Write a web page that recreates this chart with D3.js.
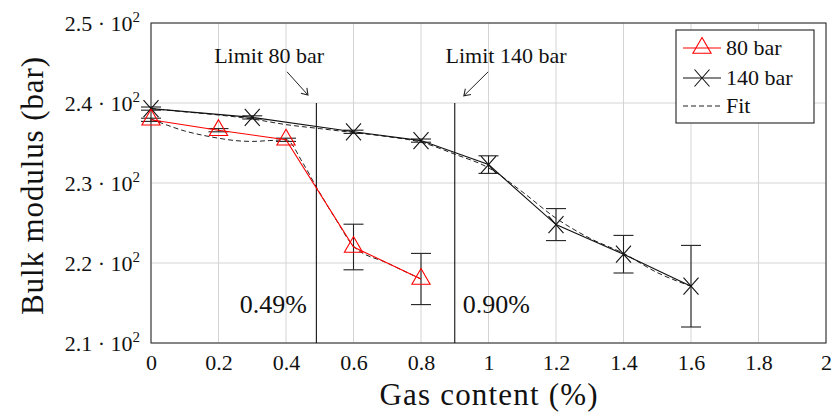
<!DOCTYPE html>
<html>
<head>
<meta charset="utf-8">
<script src="https://cdn.jsdelivr.net/npm/d3@7"></script>
<style>
    body { margin: 0; background: #fff; }
</style>
</head>
<body>
<div id="chart-area"></div>
<script>

// measured points, 80 bar
var gas80 = [0, 0.2, 0.4, 0.6, 0.8];
var bulk80 = [237.9, 236.6, 235.4, 222.0, 218.0];
var err80 = [0.2, 0.2, 0.2, 2.85, 3.2];

// measured points, 140 bar
var gas140 = [0, 0.3, 0.6, 0.8, 1.0, 1.2, 1.4, 1.6];
var bulk140 = [239.3, 238.2, 236.4, 235.3, 232.3, 224.8, 221.1, 217.1];
var err140 = [0.2, 0.2, 0.2, 0.2, 1.1, 2.0, 2.35, 5.1];

// fit curves
var fit80Gas = [0, 0.05, 0.1, 0.15, 0.2, 0.25, 0.3, 0.35, 0.4, 0.45, 0.49, 0.55, 0.6, 0.7, 0.8];
var fit80Bulk = [238.0, 237.2, 236.5, 236.0, 235.6, 235.3, 235.2, 235.3, 235.4, 232.5, 229.5, 225.3, 222.1, 220.0, 218.0];
var fit140Gas = [0, 0.1, 0.2, 0.3, 0.4, 0.5, 0.6, 0.7, 0.8, 0.9, 1.0, 1.1, 1.2, 1.3, 1.4, 1.5, 1.6];
var fit140Bulk = [239.3, 238.9, 238.5, 238.0, 237.3, 236.8, 236.3, 235.8, 235.1, 233.6, 231.9, 228.9, 225.6, 223.1, 221.2, 218.8, 217.1];

// limits
var limitGas = [0.49, 0.90];
var limitLabels = ["0.49%", "0.90%"];
var limitNames = ["Limit 80 bar", "Limit 140 bar"];

// axes
var xTicks = [0, 0.2, 0.4, 0.6, 0.8, 1, 1.2, 1.4, 1.6, 1.8, 2];
var yTicks = [210, 220, 230, 240, 250];
var yTickLabels = ["2.1", "2.2", "2.3", "2.4", "2.5"];

var seriesNames = ["80 bar", "140 bar", "Fit"];

var FONT = "Liberation Serif";

// every text gets the serif face set on itself
function serif(sel, size) {
    return sel.attr("font-family", FONT)
        .style("font-family", FONT)
        .attr("font-size", size)
        .attr("fill", "#111");
}

ChartVis = function(_parentElement) {
    this.parentElement = _parentElement;
    this.initVis();
}

ChartVis.prototype.initVis = function() {
    var vis = this;

    vis.margin = {top: 23, right: 8, bottom: 76, left: 151};
    vis.width = 834 - vis.margin.left - vis.margin.right;
    vis.height = 419 - vis.margin.top - vis.margin.bottom;

    vis.svg = d3.select("#" + vis.parentElement).append("svg")
        .attr("width", 834)
        .attr("height", 419)
        .append("g")
        .attr("transform", "translate(" + vis.margin.left + "," + vis.margin.top + ")");

    var defs = vis.svg.append("defs");
    defs.append("marker")
        .attr("id", "arrow")
        .attr("viewBox", "-8 -5 10 10")
        .attr("markerWidth", 10)
        .attr("markerHeight", 10)
        .attr("markerUnits", "userSpaceOnUse")
        .attr("orient", "auto")
        .append("path")
        .attr("d", "M-6,-4 L0,0 L-6,4")
        .attr("fill", "none")
        .attr("stroke", "#222")
        .attr("stroke-width", 1.1);

    vis.x = d3.scaleLinear().domain([0, 2]).range([0, vis.width]);
    vis.y = d3.scaleLinear().domain([210, 250]).range([vis.height, 0]);

    // grid
    vis.svg.append("g").selectAll("line.vg")
        .data(xTicks)
        .enter().append("line")
        .attr("x1", function(d) { return vis.x(d); })
        .attr("x2", function(d) { return vis.x(d); })
        .attr("y1", 0).attr("y2", vis.height)
        .attr("stroke", "#d4d4d4").attr("stroke-width", 1);

    vis.svg.append("g").selectAll("line.hg")
        .data(yTicks)
        .enter().append("line")
        .attr("y1", function(d) { return vis.y(d); })
        .attr("y2", function(d) { return vis.y(d); })
        .attr("x1", 0).attr("x2", vis.width)
        .attr("stroke", "#d4d4d4").attr("stroke-width", 1);

    // axes
    vis.xAxis = d3.axisBottom(vis.x)
        .tickValues(xTicks)
        .tickSize(0)
        .tickPadding(11)
        .tickFormat(function(d) { return d3.format("")(d); });

    vis.yAxis = d3.axisLeft(vis.y)
        .tickValues(yTicks)
        .tickSize(0)
        .tickPadding(10)
        .tickFormat("");

    var gx = vis.svg.append("g")
        .attr("class", "x-axis axis")
        .attr("transform", "translate(0," + vis.height + ")")
        .call(vis.xAxis);
    gx.select(".domain").remove();
    serif(gx.selectAll("text"), 22);

    var gy = vis.svg.append("g")
        .attr("class", "y-axis axis")
        .call(vis.yAxis);
    gy.select(".domain").remove();
    gy.selectAll(".tick text").each(function(d, i) {
        var t = serif(d3.select(this), 22)
            .attr("x", -11)
            .attr("dy", "0.35em");
        t.append("tspan").text(yTickLabels[i] + " \u00B7 10");
        t.append("tspan").attr("font-size", 15).attr("dy", "-0.6em").text("2");
    });

    // frame
    vis.svg.append("rect")
        .attr("width", vis.width).attr("height", vis.height)
        .attr("fill", "none").attr("stroke", "#333").attr("stroke-width", 1.1);

    // axis titles
    serif(vis.svg.append("text"), 31)
        .attr("x", vis.width / 2)
        .attr("y", vis.height + 62)
        .attr("text-anchor", "middle")
        .attr("textLength", 218)
        .text("Gas content (%)");

    serif(vis.svg.append("text"), 31)
        .attr("transform", "translate(-108," + (vis.height / 2 + 3) + ") rotate(-90)")
        .attr("text-anchor", "middle")
        .attr("textLength", 258)
        .text("Bulk modulus (bar)");

    vis.updateVis();
}

ChartVis.prototype.updateVis = function() {
    var vis = this;

    // limit lines
    limitGas.forEach(function(g, i) {
        vis.svg.append("line")
            .attr("x1", vis.x(g)).attr("x2", vis.x(g))
            .attr("y1", vis.y(240)).attr("y2", vis.y(210))
            .attr("stroke", "#111").attr("stroke-width", 1.1);
    });

    serif(vis.svg.append("text"), 26)
        .attr("x", vis.x(0.462)).attr("y", vis.y(213.75))
        .attr("text-anchor", "end")
        .text(limitLabels[0]);
    serif(vis.svg.append("text"), 26)
        .attr("x", vis.x(0.924)).attr("y", vis.y(213.75))
        .attr("text-anchor", "start")
        .text(limitLabels[1]);

    // annotations
    var notes = [
        {label: limitNames[0], tx: 0.35, from: [0.403, 243.9], to: [0.465, 241.0]},
        {label: limitNames[1], tx: 1.052, from: [0.999, 243.9], to: [0.927, 240.9]}
    ];
    notes.forEach(function(n) {
        serif(vis.svg.append("text"), 22)
            .attr("x", vis.x(n.tx)).attr("y", vis.y(245.0))
            .attr("text-anchor", "middle")
            .text(n.label);
        vis.svg.append("line")
            .attr("x1", vis.x(n.from[0])).attr("y1", vis.y(n.from[1]))
            .attr("x2", vis.x(n.to[0])).attr("y2", vis.y(n.to[1]))
            .attr("stroke", "#222").attr("stroke-width", 1)
            .attr("marker-end", "url(#arrow)");
    });

    var line = d3.line()
        .x(function(d) { return vis.x(d[0]); })
        .y(function(d) { return vis.y(d[1]); });

    var smooth = d3.line()
        .curve(d3.curveMonotoneX)
        .x(function(d) { return vis.x(d[0]); })
        .y(function(d) { return vis.y(d[1]); });

    var data80 = d3.zip(gas80, bulk80, err80);
    var data140 = d3.zip(gas140, bulk140, err140);

    // fits
    vis.svg.append("path")
        .datum(d3.zip(fit80Gas, fit80Bulk))
        .attr("d", smooth)
        .attr("fill", "none").attr("stroke", "#222")
        .attr("stroke-width", 1).attr("stroke-dasharray", "5,3");
    vis.svg.append("path")
        .datum(d3.zip(fit140Gas, fit140Bulk))
        .attr("d", smooth)
        .attr("fill", "none").attr("stroke", "#222")
        .attr("stroke-width", 1).attr("stroke-dasharray", "5,3");

    // error bars
    function errorBars(data) {
        var g = vis.svg.append("g");
        data.forEach(function(d) {
            var cx = vis.x(d[0]), y1 = vis.y(d[1] - d[2]), y2 = vis.y(d[1] + d[2]);
            g.append("line").attr("x1", cx).attr("x2", cx).attr("y1", y1).attr("y2", y2);
            g.append("line").attr("x1", cx - 10).attr("x2", cx + 10).attr("y1", y1).attr("y2", y1);
            g.append("line").attr("x1", cx - 10).attr("x2", cx + 10).attr("y1", y2).attr("y2", y2);
        });
        g.selectAll("line").attr("stroke", "#222").attr("stroke-width", 1.1);
    }
    errorBars(data80);
    errorBars(data140);

    // series lines
    vis.svg.append("path")
        .datum(data140)
        .attr("d", line)
        .attr("fill", "none").attr("stroke", "#111").attr("stroke-width", 1.1);
    vis.svg.append("path")
        .datum(data80)
        .attr("d", line)
        .attr("fill", "none").attr("stroke", "#ff0000").attr("stroke-width", 1.1);

    var triPath = "M0,-10.5 L9.1,5.25 L-9.1,5.25 Z";
    var crossPath = "M-7.5,-8.5 L7.5,8.5 M-7.5,8.5 L7.5,-8.5";

    vis.svg.append("g").selectAll("path")
        .data(data140)
        .enter().append("path")
        .attr("transform", function(d) { return "translate(" + vis.x(d[0]) + "," + vis.y(d[1]) + ")"; })
        .attr("d", crossPath)
        .attr("fill", "none").attr("stroke", "#111").attr("stroke-width", 1.1);

    vis.svg.append("g").selectAll("path")
        .data(data80)
        .enter().append("path")
        .attr("transform", function(d) { return "translate(" + vis.x(d[0]) + "," + vis.y(d[1]) + ")"; })
        .attr("d", triPath)
        .attr("fill", "none").attr("stroke", "#ff0000").attr("stroke-width", 1.1);

    // legend
    var lg = vis.svg.append("g")
        .attr("transform", "translate(" + (676 - vis.margin.left) + "," + (30 - vis.margin.top) + ")");
    lg.append("rect")
        .attr("width", 138).attr("height", 93)
        .attr("fill", "#fff").attr("stroke", "#222").attr("stroke-width", 1.1);

    var rows = [18, 48, 76];
    var colors = ["#ff0000", "#111", "#222"];
    seriesNames.forEach(function(name, i) {
        var ly = rows[i];
        lg.append("line")
            .attr("x1", 7).attr("x2", 45).attr("y1", ly).attr("y2", ly)
            .attr("stroke", colors[i]).attr("stroke-width", 1.1)
            .attr("stroke-dasharray", i === 2 ? "5,3" : null);
        if (i < 2) {
            lg.append("path")
                .attr("transform", "translate(26," + ly + ")")
                .attr("d", i === 0 ? triPath : crossPath)
                .attr("fill", "none").attr("stroke", colors[i]).attr("stroke-width", 1.1);
        }
        serif(lg.append("text"), 22)
            .attr("x", 50).attr("y", ly + 7)
            .text(name);
    });
}

new ChartVis("chart-area");

</script>
</body>
</html>
